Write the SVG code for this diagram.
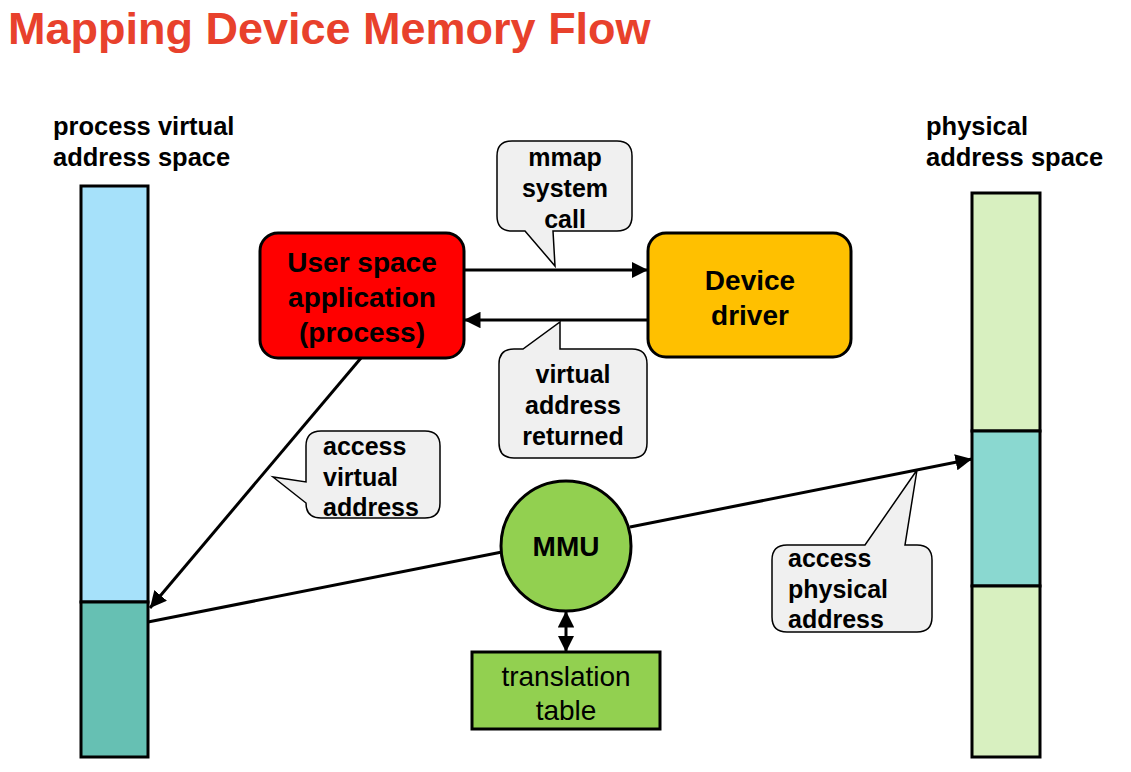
<svg xmlns="http://www.w3.org/2000/svg" width="1131" height="772" viewBox="0 0 1131 772">
<defs>
<style>
.t{font-family:"Liberation Sans",Arial,sans-serif;font-weight:bold;fill:#000}
.c{text-anchor:middle}
.box{stroke:#000;stroke-width:3}
.col{stroke:#000;stroke-width:3}
.co{fill:#f0f0f0;stroke:#000;stroke-width:1.5}
.ln{stroke:#000;stroke-width:3;fill:none}
</style>
<marker id="ahb" viewBox="0 0 10 10" refX="10" refY="5" markerWidth="5.5" markerHeight="5.5" orient="auto-start-reverse">
<path d="M0,0 L10,5 L0,10 z" fill="#000"/>
</marker>
</defs>
<rect width="1131" height="772" fill="#fff"/>
<text x="8" y="44" font-family="'Liberation Sans',Arial,sans-serif" font-weight="bold" font-size="45" fill="#e8412c">Mapping Device Memory Flow</text>

<g id="virtual-space">
<text class="t" x="53" y="135" font-size="25.5">process virtual</text>
<text class="t" x="53" y="166" font-size="25.5">address space</text>
<rect class="col" x="81" y="186" width="67" height="416" fill="#a6e1fa"/>
<rect class="col" x="81" y="602" width="67" height="155" fill="#66c0b3"/>
</g>

<g id="physical-space">
<text class="t" x="926" y="135" font-size="25.5">physical</text>
<text class="t" x="926" y="166" font-size="25.5">address space</text>
<rect class="col" x="972" y="193" width="68" height="238" fill="#d8f0c0"/>
<rect class="col" x="972" y="431" width="68" height="155" fill="#8ad8d0"/>
<rect class="col" x="972" y="586" width="68" height="171" fill="#d8f0c0"/>
</g>

<g id="connectors">
<line class="ln" x1="464" y1="270" x2="648" y2="270" marker-end="url(#ahb)"/>
<line class="ln" x1="648" y1="320" x2="464" y2="320" marker-end="url(#ahb)"/>
<line class="ln" x1="361" y1="358" x2="150" y2="608" marker-end="url(#ahb)"/>
<line class="ln" x1="148" y1="622" x2="502" y2="552"/>
<line class="ln" x1="630" y1="527" x2="972" y2="459" marker-end="url(#ahb)"/>
<line class="ln" x1="566" y1="611" x2="566" y2="652" marker-start="url(#ahb)" marker-end="url(#ahb)"/>
</g>

<g id="user-app">
<rect class="box" x="260" y="233" width="204" height="125" rx="18" fill="#ff0000"/>
<text class="t c" x="362" y="272" font-size="28">User space</text>
<text class="t c" x="362" y="307" font-size="28">application</text>
<text class="t c" x="362" y="342" font-size="28">(process)</text>
</g>

<g id="device-driver">
<rect class="box" x="648" y="233" width="203" height="124" rx="18" fill="#ffc000"/>
<text class="t c" x="750" y="290" font-size="28">Device</text>
<text class="t c" x="750" y="325" font-size="28">driver</text>
</g>

<g id="mmu">
<circle class="box" cx="566" cy="546" r="65" fill="#92d050"/>
<text class="t c" x="566" y="556" font-size="28">MMU</text>
</g>

<g id="translation-table">
<rect class="box" x="472" y="652" width="188" height="77" fill="#92d050"/>
<text x="566" y="686" font-family="'Liberation Sans',Arial,sans-serif" font-size="28" text-anchor="middle">translation</text>
<text x="566" y="720" font-family="'Liberation Sans',Arial,sans-serif" font-size="28" text-anchor="middle">table</text>
</g>

<g id="callout-mmap">
<path class="co" d="M512,141 H617 Q632,141 632,156 V216 Q632,231 617,231 H553 L555,266 L525,231 H512 Q497,231 497,216 V156 Q497,141 512,141 Z"/>
<text class="t c" x="565" y="166" font-size="25">mmap</text>
<text class="t c" x="565" y="197" font-size="25">system</text>
<text class="t c" x="565" y="228" font-size="25">call</text>
</g>

<g id="callout-returned">
<path class="co" d="M514,349 H523 L560,322 V349 H632 Q647,349 647,364 V443 Q647,458 632,458 H514 Q499,458 499,443 V364 Q499,349 514,349 Z"/>
<text class="t c" x="573" y="383" font-size="25">virtual</text>
<text class="t c" x="573" y="414" font-size="25">address</text>
<text class="t c" x="573" y="445" font-size="25">returned</text>
</g>

<g id="callout-virtual">
<path class="co" d="M321,431 H425 Q440,431 440,446 V503 Q440,518 425,518 H321 Q306,518 306,503 L273,477 L306,482 V446 Q306,431 321,431 Z"/>
<text class="t" x="323" y="455" font-size="25">access</text>
<text class="t" x="323" y="486" font-size="25">virtual</text>
<text class="t" x="323" y="516" font-size="25">address</text>
</g>

<g id="callout-physical">
<path class="co" d="M787,545 H865 L917,470 L905,545 H917 Q932,545 932,560 V617 Q932,632 917,632 H787 Q772,632 772,617 V560 Q772,545 787,545 Z"/>
<text class="t" x="788" y="567" font-size="25">access</text>
<text class="t" x="788" y="598" font-size="25">physical</text>
<text class="t" x="788" y="628" font-size="25">address</text>
</g>
</svg>
